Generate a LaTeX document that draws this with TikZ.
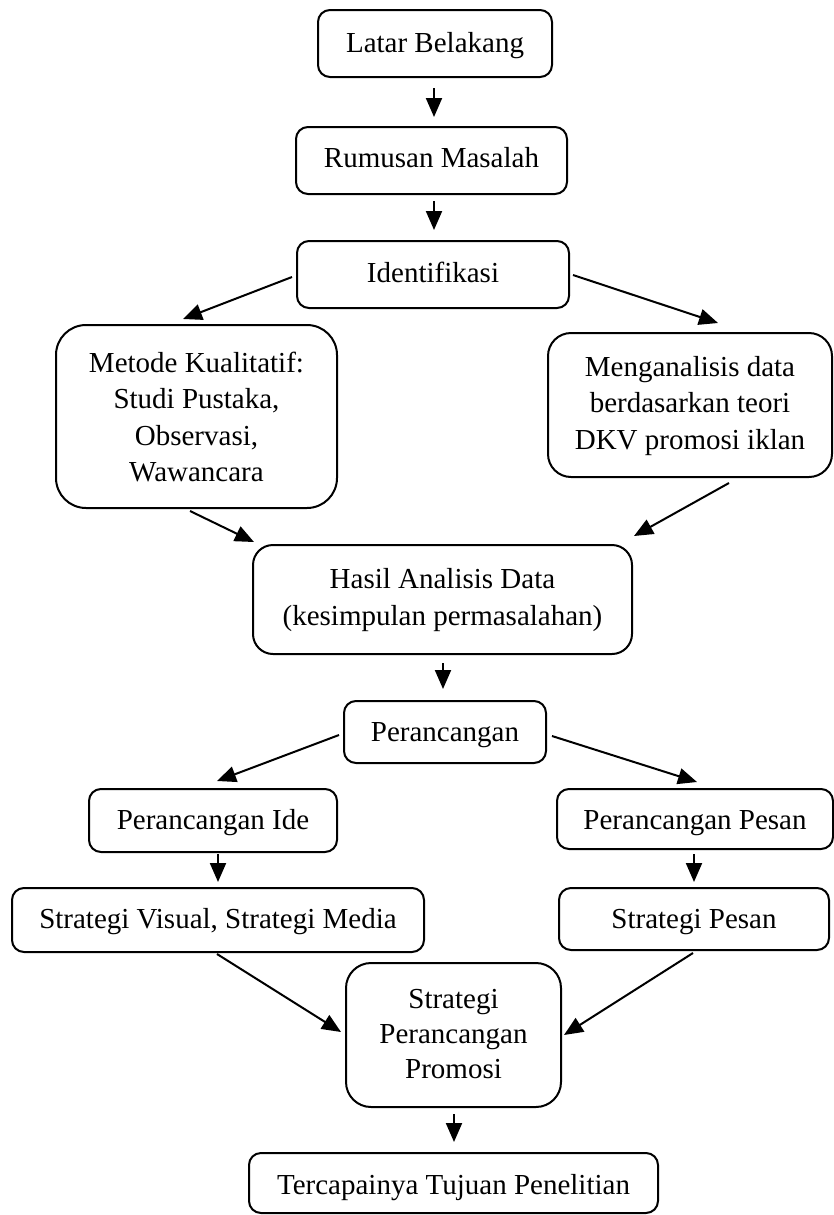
\documentclass[tikz,border=0pt]{standalone}
\usepackage{fontspec}
\setmainfont{Liberation Serif}
\usetikzlibrary{arrows.meta,calc}
\newcommand{\onel}[2]{\raisebox{#1}[0pt][0pt]{#2}}
\newcommand{\multl}[4]{\raisebox{#1}[0pt][0pt]{\parbox[b]{#2}{\baselineskip=#3\centering #4}}}
\begin{document}
\begin{tikzpicture}[x=0.5pt,y=-0.5pt,
  box/.style={draw,line width=1pt,rounded corners=6pt,inner sep=0pt,align=center,
    font=\fontsize{14.5}{18}\selectfont},
  arr/.style={line width=1pt,-{Triangle[length=9.5pt,width=8pt]}}]
\useasboundingbox (0,0) rectangle (834,1215);
\node[box,minimum width=117pt,minimum height=33.5pt] (lat) at (435,43.5) {\onel{-4.25pt}{Latar Belakang}};
\node[box,minimum width=135.5pt,minimum height=33.5pt] (rum) at (431.5,160.5) {\onel{-3.5pt}{Rumusan Masalah}};
\node[box,minimum width=136pt,minimum height=33.5pt] (idf) at (433,274.5) {\onel{-3.75pt}{Identifikasi}};
\node[box,rounded corners=15pt,minimum width=140.5pt,minimum height=91.5pt] (met) at (196.5,416.5) {\multl{-32.5pt}{140.5pt}{18.2pt}{Metode Kualitatif:\\Studi Pustaka,\\Observasi,\\Wawancara}};
\node[box,rounded corners=11.5pt,minimum width=142pt,minimum height=72pt] (men) at (690,405) {\multl{-22pt}{142pt}{18.25pt}{Menganalisis data\\berdasarkan teori\\DKV promosi iklan}};
\node[box,rounded corners=10pt,minimum width=189.5pt,minimum height=54.5pt] (has) at (442.5,599.5) {\multl{-13pt}{189.5pt}{18.5pt}{Hasil Analisis Data\\(kesimpulan permasalahan)}};
\node[box,minimum width=101pt,minimum height=31pt] (per) at (445,732) {\onel{-4.5pt}{Perancangan}};
\node[box,minimum width=124pt,minimum height=31.5pt] (ide) at (213,820.5) {\onel{-4.25pt}{Perancangan Ide}};
\node[box,minimum width=138pt,minimum height=30pt] (pes) at (695,819) {\onel{-5pt}{Perancangan Pesan}};
\node[box,minimum width=206pt,minimum height=32pt] (sv) at (218,920) {\onel{-4pt}{Strategi Visual, Strategi Media}};
\node[box,minimum width=135pt,minimum height=31pt] (sp) at (694,919) {\onel{-4.5pt}{Strategi Pesan}};
\node[box,rounded corners=12.5pt,minimum width=107.5pt,minimum height=72pt] (pro) at (453.5,1035) {\multl{-21.5pt}{107.5pt}{17.5pt}{Strategi\\Perancangan\\Promosi}};
\node[box,minimum width=204.5pt,minimum height=30pt] (ter) at (453.5,1183) {\onel{-5.5pt}{Tercapainya Tujuan Penelitian}};

\draw[arr] ($(lat.south)+(-1,10)$) -- ($(lat.south |- rum.north)+(-1,-9)$);
\draw[arr] ($(rum.south)+(2.5,6)$) -- ($(idf.north)+(1,-10)$);
\draw[arr] ($(idf.west)+(-4,2.5)$) -- ($(met.north)+(-13.5,-5)$);
\draw[arr] ($(idf.east)+(3,0.5)$) -- ($(men.north)+(28,-9)$);
\draw[arr] ($(met.south)+(-6.5,2)$) -- ($(has.north west)+(2,-2)$);
\draw[arr] ($(men.south)+(39,5)$) -- ($(has.north east)+(1,-8)$);
\draw[arr] ($(has.south)+(0.5,8)$) -- ($(per.north)+(-2,-11)$);
\draw[arr] ($(per.west)+(-4,3)$) -- ($(ide.north)+(4,-7)$);
\draw[arr] ($(per.east)+(5,4)$) -- ($(pes.north)+(2,-6)$);
\draw[arr] ($(ide.south)+(5,1)$) -- ($(sv.north)+(0,-5)$);
\draw[arr] ($(pes.south)+(-1,4)$) -- ($(sp.north)+(0,-5)$);
\draw[arr] ($(sv.south)+(-1,1)$) -- ($(pro.west)+(-4,-3)$);
\draw[arr] ($(sp.south)+(-1,2)$) -- ($(pro.east)+(2,0)$);
\draw[arr] ($(pro.south)+(0.5,6)$) -- ($(ter.north)+(0.5,-10)$);
\end{tikzpicture}
\end{document}
